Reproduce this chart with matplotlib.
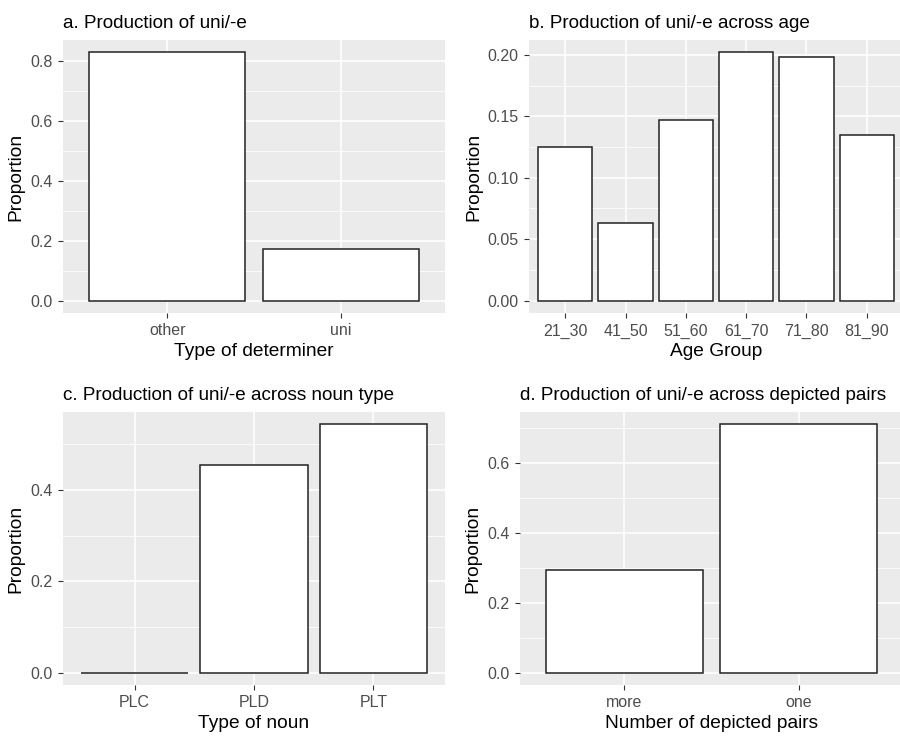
import matplotlib.pyplot as plt
import numpy as np

plt.rcParams['font.family'] = ['Liberation Sans', 'DejaVu Sans']

# === data ===
det_cats = ["other", "uni"]
det_vals = [0.827, 0.173]

age_cats = ["21_30", "41_50", "51_60", "61_70", "71_80", "81_90"]
age_vals = [0.125, 0.063, 0.147, 0.202, 0.198, 0.135]

noun_cats = ["PLC", "PLD", "PLT"]
noun_vals = [0.0, 0.455, 0.544]

pair_cats = ["more", "one"]
pair_vals = [0.292, 0.709]

panels = [
    ("a. Production of uni/-e", "Type of determiner", det_cats, det_vals,
     [0.0, 0.2, 0.4, 0.6, 0.8], "{:.1f}", [63, 40, 445, 313]),
    ("b. Production of uni/-e across age", "Age Group", age_cats, age_vals,
     [0.0, 0.05, 0.10, 0.15, 0.20], "{:.2f}", [529, 40, 903, 313]),
    ("c. Production of uni/-e across noun type", "Type of noun", noun_cats, noun_vals,
     [0.0, 0.2, 0.4], "{:.1f}", [63, 412, 445, 685]),
    ("d. Production of uni/-e across depicted pairs", "Number of depicted pairs", pair_cats, pair_vals,
     [0.0, 0.2, 0.4, 0.6], "{:.1f}", [520, 412, 903, 685]),
]

W, H = 900, 736
fig = plt.figure(figsize=(W / 100, H / 100), dpi=100)

for title, xlab, cats, vals, yticks, fmt, (l, t, r, b) in panels:
    ax = fig.add_axes([l / W, 1 - b / H, (r - l) / W, (b - t) / H])
    ax.set_facecolor("#EBEBEB")
    x = np.arange(len(cats))
    ax.bar(x, vals, width=0.9, color="white", edgecolor="#222222", linewidth=1.1, zorder=3)

    # ggplot-like expansion
    n = len(cats)
    ax.set_xlim(-0.6, n - 0.4)
    top = max(vals)
    ax.set_ylim(-0.05 * top, top * 1.05)

    ax.set_yticks(yticks)
    ax.set_yticklabels([fmt.format(v) for v in yticks])
    minor = [(yticks[i] + yticks[i + 1]) / 2 for i in range(len(yticks) - 1)]
    step = yticks[1] - yticks[0]
    if yticks[-1] + step / 2 < top * 1.05:
        minor.append(yticks[-1] + step / 2)
    ax.set_yticks(minor, minor=True)
    ax.set_xticks(x)
    ax.set_xticklabels(cats)

    ax.grid(True, which="major", color="white", linewidth=1.1, zorder=0)
    ax.grid(True, which="minor", axis="y", color="white", linewidth=0.55, zorder=0)
    ax.set_axisbelow(True)
    for s in ax.spines.values():
        s.set_visible(False)
    ax.tick_params(axis="both", which="major", length=3.5, color="#333333",
                   labelcolor="#4D4D4D", labelsize=11.5, pad=4)
    ax.tick_params(axis="both", which="minor", length=0)

    ax.set_title(title, loc="left", fontsize=13.6, pad=9, color="black")
    ax.set_xlabel(xlab, fontsize=13.8, labelpad=3)
    ax.set_ylabel("Proportion", fontsize=13.8, labelpad=4)

fig.savefig("out.png", dpi=100)
